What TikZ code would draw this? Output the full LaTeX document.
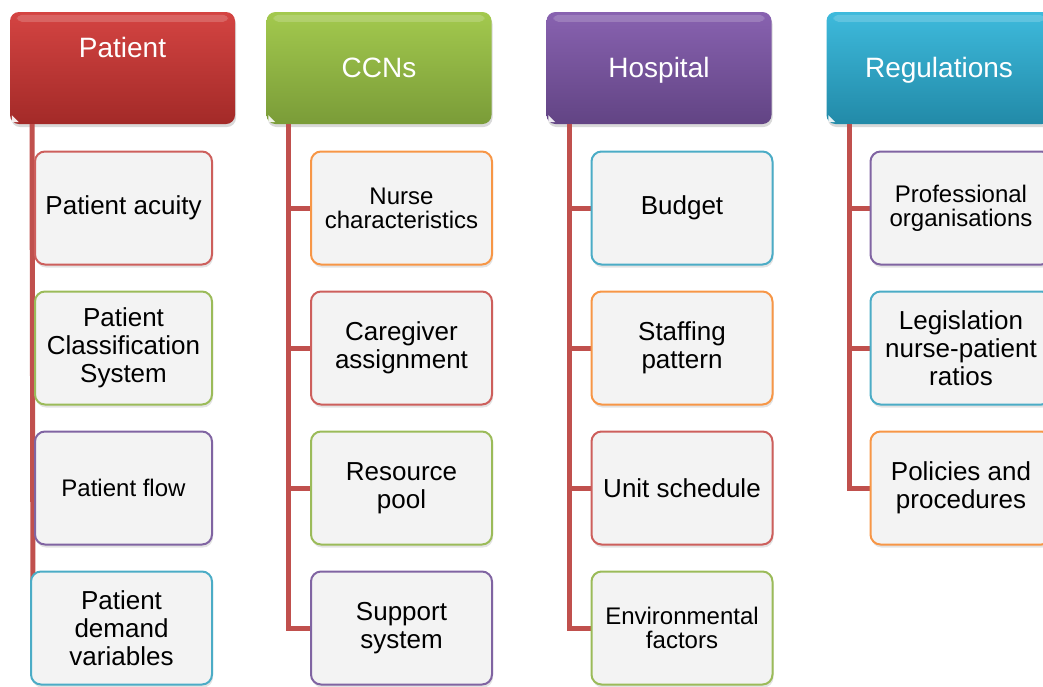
\documentclass[tikz,border=0pt]{standalone}
\usepackage{fontspec}
\setmainfont{Liberation Sans}
\usetikzlibrary{shadows}
\definecolor{linecol}{RGB}{192,80,77}
\definecolor{boxfill}{RGB}{243,243,243}
\definecolor{bred}{RGB}{205,95,92}
\definecolor{bgreen}{RGB}{155,187,89}
\definecolor{bpurple}{RGB}{128,100,162}
\definecolor{baqua}{RGB}{75,172,198}
\definecolor{borange}{RGB}{247,150,70}
\definecolor{redtop}{RGB}{212,68,66}
\definecolor{redbot}{RGB}{163,42,40}
\definecolor{greentop}{RGB}{163,201,78}
\definecolor{greenbot}{RGB}{122,156,56}
\definecolor{purtop}{RGB}{136,98,176}
\definecolor{purbot}{RGB}{98,68,132}
\definecolor{aquatop}{RGB}{62,186,220}
\definecolor{aquabot}{RGB}{34,138,168}
\begin{document}
\begin{tikzpicture}[x=1pt,y=-1pt,
  hdr/.style={draw=none, rounded corners=9pt, minimum width=225pt, minimum height=112pt,
    inner sep=0pt, drop shadow={opacity=0.3,shadow xshift=1pt,shadow yshift=-3pt}},
  htxt/.style={text=white, font=\fontsize{28}{30}\selectfont, anchor=base, inner sep=0pt},
  child/.style={draw=#1, line width=2pt, rounded corners=10pt, fill=boxfill,
    minimum height=113pt, minimum width=181pt, align=center, inner sep=2pt,
    font=\fontsize{26}{28}\selectfont,
    drop shadow={opacity=0.22,shadow xshift=1pt,shadow yshift=-3pt}},
  small/.style={font=\fontsize{24}{24}\selectfont},
  conn/.style={draw=linecol, line width=5pt},
  gloss/.style={fill=white, opacity=0.18, rounded corners=5pt},
  tri/.style={fill=white, opacity=0.9},
]
\useasboundingbox (0,0) rectangle (1043,686);

% headers
\node[hdr, top color=redtop, bottom color=redbot] (h1) at (122.5,68) {};
\node[hdr, top color=greentop, bottom color=greenbot] (h2) at (379,68) {};
\node[hdr, top color=purtop, bottom color=purbot] (h3) at (659,68) {};
\node[hdr, top color=aquatop, bottom color=aquabot] (h4) at (939,68) {};

\foreach \h in {h1,h2,h3,h4}{
  \fill[gloss] ([xshift=7pt,yshift=-3pt]\h.north west) rectangle ([xshift=-7pt,yshift=-10pt]\h.north east);
  \fill[tri] ([xshift=2pt,yshift=2pt]\h.south west) -- ++(7,0) -- ++(-7,-7) -- cycle;
}

\node[htxt] (t1) at (122.5,57) {Patient};
\node[htxt] (t2) at (379,77) {CCNs};
\node[htxt] (t3) at (659,77) {Hospital};
\node[htxt] (t4) at (939,77) {Regulations};

% trunk coordinates
\coordinate (r1) at (32,124);
\coordinate (r2) at (288,124);
\coordinate (r3) at (569,124);
\coordinate (r4) at (849,124);

\coordinate (q1) at (33,628);
\coordinate (q2) at (311,628);
\coordinate (q3) at (591,628);
\coordinate (q4) at (870,488);

% connectors (drawn under boxes)
\draw[conn] (r1) -- (q1);
\draw[conn] (r2) |- (311,208);
\draw[conn] (r2) |- (311,348);
\draw[conn] (r2) |- (311,488);
\draw[conn] (r2) |- (q2);
\draw[conn] (r3) |- (591,208);
\draw[conn] (r3) |- (591,348);
\draw[conn] (r3) |- (591,488);
\draw[conn] (r3) |- (q3);
\draw[conn] (r4) |- (870,208);
\draw[conn] (r4) |- (870,348);
\draw[conn] (r4) |- (q4);

% Patient column
\node[child=bred, minimum width=177pt] (p1) at (123.5,208) {Patient acuity};
\node[child=bgreen, minimum width=177pt] (p2) at (123.5,348) {Patient\\Classification\\System};
\node[child=bpurple, minimum width=177pt, small] (p3) at (123.5,488) {Patient flow};
\node[child=baqua] (p4) at (121.5,628) {Patient\\demand\\variables};

% CCNs column
\node[child=borange, small] (c1) at (401.5,208) {Nurse\\characteristics};
\node[child=bred] (c2) at (401.5,348) {Caregiver\\assignment};
\node[child=bgreen] (c3) at (401.5,488) {Resource\\pool};
\node[child=bpurple] (c4) at (401.5,628) {Support\\system};

% Hospital column
\node[child=baqua] (s1) at (682,208) {Budget};
\node[child=borange] (s2) at (682,348) {Staffing\\pattern};
\node[child=bred] (s3) at (682,488) {Unit schedule};
\node[child=bgreen, small] (s4) at (682,628) {Environmental\\factors};

% Regulations column
\node[child=bpurple, small] (g1) at (961,208) {Professional\\organisations};
\node[child=baqua] (g2) at (961,348) {Legislation\\nurse-patient\\ratios};
\node[child=borange] (g3) at (961,488) {Policies and\\procedures};
\end{tikzpicture}
\end{document}
